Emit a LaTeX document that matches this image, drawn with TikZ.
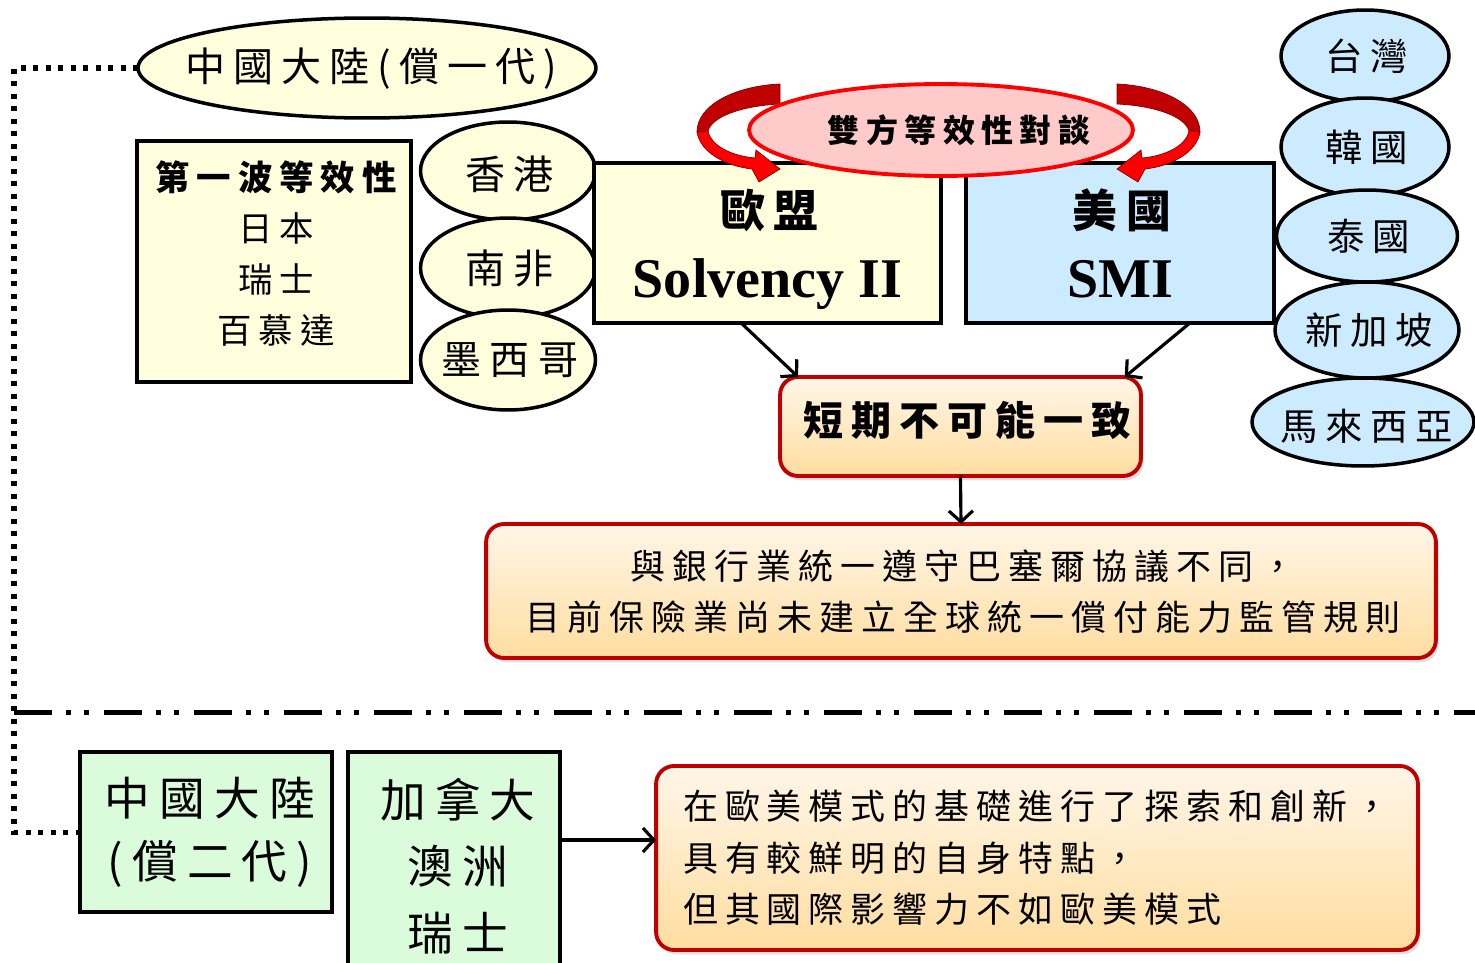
\documentclass[tikz,border=0pt]{standalone}
\usepackage{fontspec}
\setmainfont{Liberation Serif}
\newfontfamily\cjk[LetterSpace=20]{Noto Sans CJK TC}
\usetikzlibrary{arrows.meta,shapes.geometric,calc,shadows}
\definecolor{lyel}{HTML}{FFFFDD}
\definecolor{lblue}{HTML}{CCEBFF}
\definecolor{lgreen}{HTML}{DAFCDA}
\definecolor{pinkf}{HTML}{FFCACA}
\definecolor{bred}{HTML}{FF0000}
\definecolor{dred}{HTML}{C00000}
\definecolor{otop}{HTML}{FFF6E8}
\definecolor{obot}{HTML}{FFDDA0}
\begin{document}
\begin{tikzpicture}[x=0.02cm,y=-0.02cm,
  every node/.style={inner sep=0pt,outer sep=0pt,text=black},
  bx/.style={rectangle,draw=black,line width=2.2pt},
  ybox/.style={bx,fill=lyel},
  gbox/.style={bx,fill=lgreen},
  bbox/.style={bx,fill=lblue},
  yell/.style={ellipse,draw=black,line width=2pt,fill=lyel},
  bell/.style={ellipse,draw=black,line width=2pt,fill=lblue},
  obox/.style={rectangle,rounded corners=0.36cm,draw=dred,line width=2.2pt,
    top color=otop,bottom color=obot,
    drop shadow={opacity=0.25,shadow xshift=1.5pt,shadow yshift=-2.5pt}},
  conn/.style={line width=1.8pt,-{Straight Barb[length=2.2mm,width=4.8mm]}},
  dotline/.style={line width=2.85pt,dash pattern=on 0.1cm off 0.15cm},
  divider/.style={line width=2.85pt,dash pattern=on 0.76cm off 0.28cm on 0.1cm off 0.26cm on 0.1cm off 0.3cm},
  darkband/.style={fill=dred,draw=dred!70!black,line width=0.4pt},
  brightband/.style={fill=bred,draw=dred!70!black,line width=0.4pt},
  t40/.style={font=\cjk\fontsize{22.8}{27}\selectfont},
  t37/.style={font=\cjk\fontsize{21.3}{25}\selectfont}
]
\useasboundingbox (0,0) rectangle (1475,963);

% top-left ellipse
\node[yell,minimum width=9.16cm,minimum height=2.0cm] (e1) at (367,68) {};
\node[t40] (e1t) at ($(e1.center)+(4,1)$) {中國大陸(償一代)};

% first wave box
\node[ybox,minimum width=5.48cm,minimum height=4.82cm] (first) at (274,261.5) {};
\node[align=center,font=\cjk\fontsize{19.6}{29}\selectfont] (firstt)
  at ($(first.center)+(2,-8)$) {{\bfseries 第一波等效性}\\日本\\瑞士\\百慕達};

% small yellow ellipses
\node[yell,minimum width=3.5cm,minimum height=1.96cm] (hk) at (508,171) {};
\node[t40] (hkt) at ($(hk.center)+(2,3)$) {香港};
\node[yell,minimum width=3.5cm,minimum height=2.0cm] (sa) at (508,268) {};
\node[t40] (sat) at ($(sa.center)+(2,0)$) {南非};
\node[yell,minimum width=3.5cm,minimum height=2.0cm] (mx) at (508,360) {};
\node[t40] (mxt) at ($(mx.center)+(2,0)$) {墨西哥};

% EU and US boxes
\node[ybox,minimum width=6.94cm,minimum height=3.2cm] (eu) at (767.5,243) {};
\node[font=\cjk\bfseries\fontsize{25.5}{30}\selectfont] (eut) at ($(eu.center)+(2,-33)$) {歐盟};
\node[anchor=base,font=\bfseries\fontsize{31.9}{36}\selectfont] (eus) at ($(eu.center)+(0,54)$) {Solvency II};
\node[bbox,minimum width=6.16cm,minimum height=3.2cm] (us) at (1120,243) {};
\node[font=\cjk\bfseries\fontsize{25.5}{30}\selectfont] (ust) at ($(us.center)+(2,-33)$) {美國};
\node[anchor=base,font=\bfseries\fontsize{31.9}{36}\selectfont] (uss) at ($(us.center)+(0,54)$) {SMI};

% right blue ellipses
\node[bell,minimum width=3.36cm,minimum height=1.84cm] (tw) at (1365,56) {};
\node[t37] (twt) at ($(tw.center)+(2,0)$) {台灣};
\node[bell,minimum width=3.36cm,minimum height=1.96cm] (kr) at (1365,147) {};
\node[t37] (krt) at ($(kr.center)+(2,0)$) {韓國};
\node[bell,minimum width=3.62cm,minimum height=1.84cm] (th) at (1367,236) {};
\node[t37] (tht) at ($(th.center)+(2,0)$) {泰國};
\node[bell,minimum width=3.68cm,minimum height=1.92cm] (sg) at (1367,330) {};
\node[t37] (sgt) at ($(sg.center)+(2,0)$) {新加坡};
\node[bell,minimum width=4.44cm,minimum height=1.76cm] (my) at (1363,422) {};
\node[t37] (myt) at ($(my.center)+(4,4)$) {馬來西亞};

% curved red arrows (left)
\filldraw[darkband]
  (780,84) .. controls (735,86) and (697,105) .. (697,132)
  -- (708,131) .. controls (712,117) and (740,106) .. (780,104) -- cycle;
\filldraw[brightband]
  (697,132) .. controls (700,152) and (725,166) .. (752,169)
  -- (759,182) -- (780,169) -- (756,150) -- (755,158)
  .. controls (732,156) and (711,146) .. (708,131) -- cycle;
% curved red arrows (right, mirrored)
\filldraw[darkband]
  (1117,84) .. controls (1162,86) and (1200,105) .. (1200,132)
  -- (1189,131) .. controls (1185,117) and (1157,106) .. (1117,104) -- cycle;
\filldraw[brightband]
  (1200,132) .. controls (1197,152) and (1172,166) .. (1145,169)
  -- (1138,182) -- (1117,169) -- (1141,150) -- (1142,158)
  .. controls (1165,156) and (1186,146) .. (1189,131) -- cycle;

% bilateral talks ellipse
\node[ellipse,draw=bred,line width=2.2pt,fill=pinkf,minimum width=7.68cm,minimum height=1.84cm] (talks) at (941,130) {};
\node[font=\cjk\bfseries\fontsize{18.2}{22}\selectfont] (talkst) at ($(talks.center)+(18,0)$) {雙方等效性對談};

% orange boxes
\node[obox,minimum width=7.22cm,minimum height=1.98cm] (short) at (960.5,426.5) {};
\node[font=\cjk\bfseries\fontsize{22.8}{27}\selectfont] (shortt) at ($(short.center)+(7,-6)$) {短期不可能一致};
\node[obox,minimum width=19.0cm,minimum height=2.68cm] (bank) at (961,591) {};
\node[align=center,font=\cjk\fontsize{19.9}{29}\selectfont] (bankt) at ($(bank.center)+(2,1)$)
  {與銀行業統一遵守巴塞爾協議不同，\\目前保險業尚未建立全球統一償付能力監管規則};

% connectors
\draw[conn] ($(eu.south west)!0.424!(eu.south east)$) -- ($(short.north west)!0.05!(short.north east)$);
\draw[conn] ($(us.south west)!0.727!(us.south east)$) -- ($(short.north west)!0.955!(short.north east)$);
\draw[conn] (short.south) -- (bank.north);

% divider
\coordinate (divL) at (14,712);
\coordinate (divR) at (1475,712);
\draw[divider] (divL) -- (divR);

% green boxes
\node[gbox,minimum width=5.04cm,minimum height=3.2cm] (g1) at (206,832) {};
\node[align=center,font=\cjk\fontsize{26}{35.8}\selectfont] (g1t) at ($(g1.center)+(4,0)$) {中國大陸\\(償二代)};
\node[gbox,minimum width=4.24cm,minimum height=4.56cm] (g2) at (454,866) {};
\node[align=center,font=\cjk\fontsize{26}{38}\selectfont] (g2t) at ($(g2.center)+(4,0)$) {加拿大\\澳洲\\瑞士};

% dotted bracket
\coordinate (dotx) at (14,0);
\draw[dotline] (e1.west) -- (e1.west -| dotx) -- (g1.west -| dotx) -- (g1.west);

% bottom box
\node[obox,minimum width=15.24cm,minimum height=3.68cm] (bot) at (1037,858) {};
\node[anchor=west,align=left,font=\cjk\fontsize{19.9}{29.3}\selectfont] (bott)
  at ($(bot.west)+(27,0)$)
  {在歐美模式的基礎進行了探索和創新，\\具有較鮮明的自身特點，\\但其國際影響力不如歐美模式};

\coordinate (ga) at ($(g2.north east)!0.386!(g2.south east)$);
\draw[conn] (ga) -- (ga -| bot.west);
\end{tikzpicture}
\end{document}
